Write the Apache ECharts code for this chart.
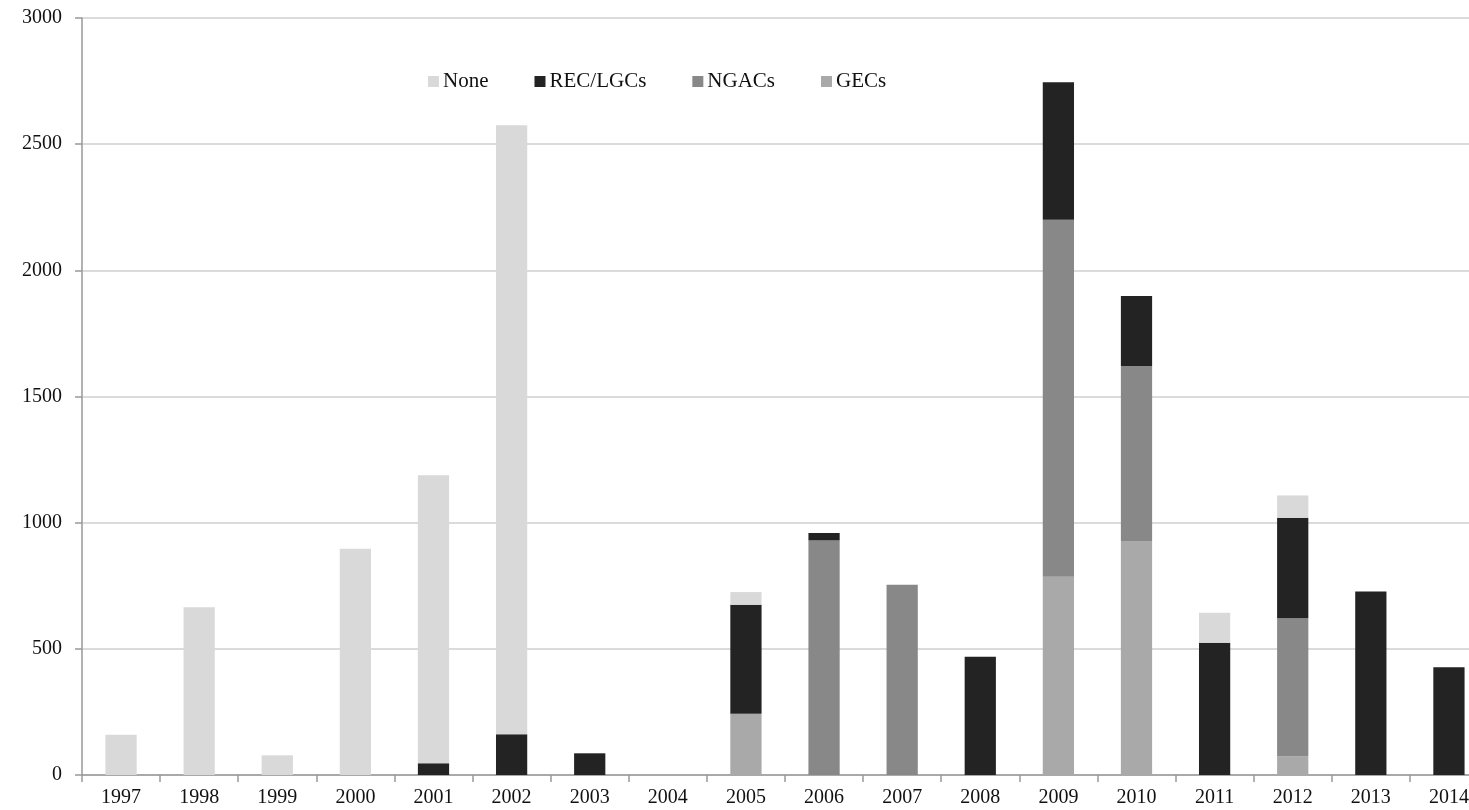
<!DOCTYPE html>
<html>
<head>
<meta charset="utf-8">
<script src="https://cdn.jsdelivr.net/npm/echarts@6/dist/echarts.min.js"></script>
<style>
html,body{margin:0;padding:0;background:#fff;overflow:hidden;}
#chart{width:1488px;height:810px;}
</style>
</head>
<body>
<div id="chart"></div>
<script>
const years = ['1997','1998','1999','2000','2001','2002','2003','2004','2005','2006','2007','2008','2009','2010','2011','2012','2013','2014'];
const gecs   = [0,0,0,0,0,0,0,0,243,0,0,0,786,927,0,75,0,0];
const ngacs  = [0,0,0,0,0,0,0,0,0,930,754,0,1414,694,0,546,0,0];
const recs   = [0,0,0,0,47,161,86,0,432,29,0,469,545,277,524,398,727,427];
const none   = [160,665,78,897,1141,2414,0,0,50,0,0,0,0,0,119,89,0,0];
const yTicks = [0,500,1000,1500,2000,2500,3000];

const font = '"Liberation Serif", "DejaVu Serif", serif';
function mk(name, data, color){
  return {
    name: name, type: 'bar', stack: 'total',
    data: data.map(v => v === 0 ? '-' : v),
    barWidth: '40%',
    itemStyle: {color: color},
    emphasis: {disabled: true}
  };
}
const chart = echarts.init(document.getElementById('chart'), null, {renderer: 'canvas'});
chart.setOption({
  animation: false,
  backgroundColor: '#fff',
  grid: {left: 82, top: 18, bottom: 35, right: 0, containLabel: false},
  legend: {
    data: ['None','REC/LGCs','NGACs','GECs'],
    left: 428, top: 71, padding: 0,
    itemWidth: 11, itemHeight: 11, itemGap: 46,
    icon: 'rect',
    textStyle: {fontFamily: font, fontSize: 21, color: '#111', padding: [0,0,0,-1]}
  },
  xAxis: {
    type: 'category', data: years,
    axisLine: {lineStyle: {color: '#999', width: 1.5}},
    axisTick: {show: true, length: 7, lineStyle: {color: '#999', width: 1.5}},
    axisLabel: {fontFamily: font, fontSize: 20, color: '#111', margin: 13}
  },
  yAxis: {
    type: 'value', min: 0, max: 3000, interval: 500,
    axisLine: {show: true, lineStyle: {color: '#999', width: 1.5}},
    axisTick: {show: true, length: 7, lineStyle: {color: '#999', width: 1.5}},
    axisLabel: {fontFamily: font, fontSize: 20, color: '#111', margin: 20,
      formatter: v => yTicks.indexOf(v) >= 0 ? String(v) : ''},
    splitLine: {lineStyle: {color: '#cfcfcf', width: 1.5}}
  },
  series: [
    mk('GECs', gecs, '#a9a9a9'),
    mk('NGACs', ngacs, '#888888'),
    mk('REC/LGCs', recs, '#232323'),
    mk('None', none, '#d9d9d9')
  ]
});
</script>
</body>
</html>
